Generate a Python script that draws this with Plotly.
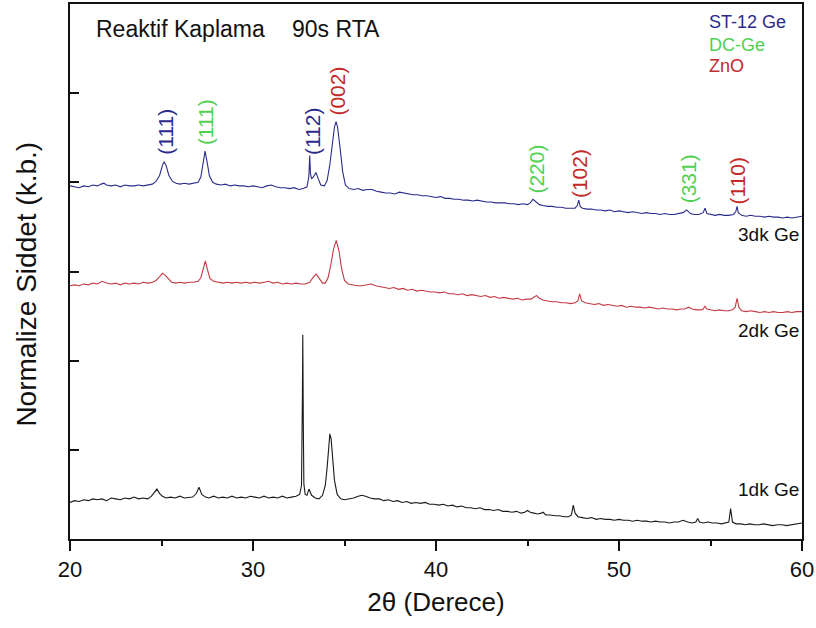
import plotly.graph_objects as go

# ---------------- data: (2θ [deg], normalized intensity incl. vertical offset) ----------------
pts_1dk = [
    (20.0, 0.41), (20.25, 0.43), (20.5, 0.42), (20.75, 0.44), (21.0, 0.43), (21.25, 0.45), (21.5, 0.44),
    (21.75, 0.45), (22.0, 0.43), (22.25, 0.46), (22.5, 0.45), (22.75, 0.44), (23.0, 0.46), (23.25, 0.45),
    (23.5, 0.47), (23.75, 0.45), (24.0, 0.46), (24.25, 0.45), (24.45, 0.48), (24.6, 0.52), (24.75, 0.56),
    (24.9, 0.51), (25.05, 0.48), (25.25, 0.46), (25.5, 0.47), (25.75, 0.46), (26.0, 0.48), (26.25, 0.46),
    (26.5, 0.47), (26.7, 0.47), (26.9, 0.51), (27.05, 0.58), (27.2, 0.50), (27.4, 0.47), (27.6, 0.46),
    (27.85, 0.48), (28.1, 0.46), (28.35, 0.47), (28.6, 0.46), (28.85, 0.48), (29.1, 0.46), (29.35, 0.47),
    (29.6, 0.46), (29.85, 0.48), (30.1, 0.47), (30.35, 0.46), (30.6, 0.48), (30.85, 0.46), (31.1, 0.47),
    (31.35, 0.46), (31.6, 0.48), (31.85, 0.46), (32.1, 0.47), (32.35, 0.48), (32.55, 0.50), (32.65, 0.60),
    (32.7, 1.60), (32.72, 2.29), (32.75, 1.27), (32.78, 0.62), (32.85, 0.50), (32.95, 0.49), (33.06, 0.56),
    (33.2, 0.49), (33.4, 0.46), (33.6, 0.45), (33.8, 0.49), (33.95, 0.60), (34.05, 0.80), (34.15, 1.05),
    (34.2, 1.18), (34.27, 1.12), (34.35, 0.90), (34.45, 0.66), (34.6, 0.50), (34.8, 0.45), (35.0, 0.44),
    (35.25, 0.45), (35.5, 0.46), (35.75, 0.48), (35.95, 0.49), (36.15, 0.48), (36.4, 0.46), (36.65, 0.45),
    (36.9, 0.45), (37.15, 0.43), (37.4, 0.44), (37.65, 0.42), (37.9, 0.43), (38.15, 0.41), (38.4, 0.42),
    (38.65, 0.40), (38.9, 0.41), (39.15, 0.40), (39.4, 0.41), (39.65, 0.39), (39.9, 0.39), (40.15, 0.38),
    (40.4, 0.39), (40.65, 0.37), (40.9, 0.38), (41.15, 0.36), (41.4, 0.37), (41.65, 0.35), (41.9, 0.35),
    (42.15, 0.34), (42.4, 0.35), (42.65, 0.33), (42.9, 0.33), (43.15, 0.32), (43.4, 0.33), (43.65, 0.31),
    (43.9, 0.31), (44.15, 0.30), (44.4, 0.31), (44.65, 0.29), (44.85, 0.30), (45.0, 0.32), (45.15, 0.30),
    (45.35, 0.29), (45.55, 0.28), (45.75, 0.29), (45.85, 0.30), (46.0, 0.27), (46.25, 0.27), (46.5, 0.26),
    (46.75, 0.26), (47.0, 0.25), (47.25, 0.25), (47.4, 0.27), (47.5, 0.38), (47.6, 0.29), (47.75, 0.25),
    (48.0, 0.24), (48.25, 0.23), (48.5, 0.24), (48.75, 0.22), (49.0, 0.23), (49.25, 0.22), (49.5, 0.22),
    (49.75, 0.21), (50.0, 0.22), (50.25, 0.21), (50.5, 0.21), (50.75, 0.20), (51.0, 0.21), (51.25, 0.20),
    (51.5, 0.20), (51.75, 0.19), (52.0, 0.20), (52.25, 0.19), (52.5, 0.19), (52.75, 0.18), (53.0, 0.19),
    (53.25, 0.19), (53.5, 0.21), (53.75, 0.19), (54.0, 0.18), (54.2, 0.19), (54.3, 0.23), (54.4, 0.19),
    (54.6, 0.18), (54.85, 0.19), (55.1, 0.18), (55.35, 0.18), (55.6, 0.17), (55.85, 0.18), (56.0, 0.19),
    (56.1, 0.34), (56.2, 0.19), (56.4, 0.17), (56.65, 0.17), (56.9, 0.16), (57.15, 0.17), (57.4, 0.16),
    (57.65, 0.16), (57.9, 0.17), (58.15, 0.16), (58.4, 0.15), (58.65, 0.16), (58.9, 0.16), (59.15, 0.15),
    (59.4, 0.16), (59.65, 0.17), (60.0, 0.18),
]

pts_2dk = [
    (20.0, 2.84), (20.25, 2.85), (20.5, 2.84), (20.75, 2.86), (21.0, 2.85), (21.25, 2.87), (21.5, 2.86),
    (21.75, 2.89), (22.0, 2.87), (22.25, 2.86), (22.5, 2.87), (22.75, 2.85), (23.0, 2.87), (23.25, 2.86),
    (23.5, 2.87), (23.75, 2.86), (24.0, 2.88), (24.25, 2.87), (24.5, 2.88), (24.7, 2.90), (24.85, 2.93),
    (25.05, 2.98), (25.2, 2.96), (25.35, 2.92), (25.55, 2.88), (25.8, 2.87), (26.0, 2.88), (26.25, 2.87),
    (26.5, 2.88), (26.75, 2.88), (27.0, 2.89), (27.15, 2.93), (27.3, 3.04), (27.4, 3.12), (27.5, 3.03),
    (27.65, 2.92), (27.85, 2.89), (28.1, 2.88), (28.35, 2.87), (28.6, 2.88), (28.85, 2.87), (29.1, 2.88),
    (29.35, 2.87), (29.6, 2.88), (29.85, 2.87), (30.1, 2.88), (30.35, 2.87), (30.6, 2.88), (30.85, 2.89),
    (31.1, 2.87), (31.35, 2.88), (31.6, 2.86), (31.85, 2.87), (32.1, 2.86), (32.35, 2.87), (32.6, 2.86),
    (32.85, 2.86), (33.1, 2.88), (33.3, 2.94), (33.45, 2.97), (33.6, 2.93), (33.8, 2.87), (33.95, 2.87),
    (34.1, 2.93), (34.25, 3.07), (34.4, 3.25), (34.55, 3.35), (34.7, 3.23), (34.85, 3.02), (35.0, 2.90),
    (35.2, 2.86), (35.45, 2.85), (35.7, 2.84), (35.95, 2.84), (36.2, 2.85), (36.45, 2.86), (36.7, 2.84),
    (36.95, 2.83), (37.2, 2.82), (37.45, 2.81), (37.7, 2.82), (37.95, 2.80), (38.2, 2.81), (38.45, 2.79),
    (38.7, 2.80), (38.95, 2.78), (39.2, 2.79), (39.45, 2.78), (39.7, 2.77), (39.95, 2.77), (40.2, 2.76),
    (40.45, 2.77), (40.7, 2.75), (40.95, 2.75), (41.2, 2.74), (41.45, 2.75), (41.7, 2.73), (41.95, 2.74),
    (42.2, 2.73), (42.45, 2.72), (42.7, 2.73), (42.95, 2.71), (43.2, 2.72), (43.45, 2.70), (43.7, 2.71),
    (43.95, 2.70), (44.2, 2.69), (44.45, 2.70), (44.7, 2.68), (44.95, 2.69), (45.2, 2.69), (45.4, 2.72),
    (45.5, 2.73), (45.65, 2.70), (45.85, 2.68), (46.1, 2.67), (46.35, 2.66), (46.6, 2.66), (46.85, 2.65),
    (47.1, 2.65), (47.35, 2.64), (47.6, 2.65), (47.75, 2.67), (47.85, 2.75), (47.95, 2.67), (48.15, 2.65),
    (48.4, 2.64), (48.65, 2.63), (48.9, 2.64), (49.15, 2.62), (49.4, 2.63), (49.65, 2.62), (49.9, 2.61),
    (50.15, 2.62), (50.4, 2.60), (50.65, 2.61), (50.9, 2.60), (51.15, 2.60), (51.4, 2.59), (51.65, 2.60),
    (51.9, 2.59), (52.15, 2.58), (52.4, 2.59), (52.65, 2.58), (52.9, 2.58), (53.15, 2.57), (53.4, 2.58),
    (53.6, 2.58), (53.8, 2.60), (54.0, 2.58), (54.25, 2.57), (54.5, 2.57), (54.6, 2.58), (54.7, 2.61),
    (54.8, 2.58), (55.0, 2.57), (55.25, 2.56), (55.5, 2.57), (55.75, 2.56), (56.0, 2.56), (56.2, 2.57),
    (56.35, 2.60), (56.45, 2.70), (56.55, 2.60), (56.7, 2.56), (56.95, 2.55), (57.2, 2.56), (57.45, 2.55),
    (57.7, 2.54), (57.95, 2.55), (58.2, 2.54), (58.45, 2.55), (58.7, 2.54), (58.95, 2.54), (59.2, 2.55),
    (59.45, 2.54), (59.7, 2.55), (60.0, 2.55),
]

pts_3dk = [
    (20.0, 3.96), (20.25, 3.95), (20.5, 3.94), (20.75, 3.96), (21.0, 3.95), (21.25, 3.97), (21.5, 3.96),
    (21.7, 3.98), (21.85, 3.99), (22.0, 3.97), (22.25, 3.96), (22.5, 3.97), (22.75, 3.95), (23.0, 3.97),
    (23.25, 3.96), (23.5, 3.96), (23.75, 3.97), (24.0, 3.96), (24.25, 3.97), (24.5, 3.98), (24.7, 4.01),
    (24.9, 4.08), (25.05, 4.19), (25.14, 4.23), (25.25, 4.19), (25.4, 4.08), (25.6, 4.01), (25.8, 3.99),
    (26.0, 3.98), (26.25, 3.99), (26.5, 3.98), (26.75, 3.99), (27.0, 4.00), (27.15, 4.06), (27.28, 4.25),
    (27.38, 4.35), (27.48, 4.24), (27.62, 4.07), (27.8, 4.00), (28.0, 3.98), (28.25, 3.97), (28.5, 3.98),
    (28.75, 3.96), (29.0, 3.97), (29.25, 3.96), (29.5, 3.96), (29.75, 3.95), (30.0, 3.96), (30.25, 3.95),
    (30.5, 3.94), (30.75, 3.96), (31.0, 3.97), (31.25, 3.95), (31.5, 3.94), (31.75, 3.94), (32.0, 3.93),
    (32.25, 3.94), (32.5, 3.92), (32.75, 3.93), (32.95, 3.95), (33.05, 4.06), (33.1, 4.30), (33.14, 4.10),
    (33.2, 4.04), (33.3, 4.06), (33.44, 4.11), (33.55, 4.05), (33.7, 3.97), (33.9, 3.96), (34.05, 4.02),
    (34.2, 4.20), (34.35, 4.46), (34.45, 4.62), (34.54, 4.68), (34.62, 4.62), (34.75, 4.40), (34.9, 4.12),
    (35.05, 3.97), (35.25, 3.93), (35.5, 3.92), (35.75, 3.93), (36.0, 3.91), (36.25, 3.92), (36.5, 3.92),
    (36.75, 3.90), (37.0, 3.89), (37.25, 3.88), (37.5, 3.88), (37.75, 3.87), (38.0, 3.89), (38.25, 3.88),
    (38.5, 3.87), (38.75, 3.86), (39.0, 3.86), (39.25, 3.85), (39.5, 3.85), (39.75, 3.84), (40.0, 3.83),
    (40.25, 3.84), (40.5, 3.82), (40.75, 3.82), (41.0, 3.81), (41.25, 3.81), (41.5, 3.80), (41.75, 3.80),
    (42.0, 3.79), (42.25, 3.80), (42.5, 3.79), (42.75, 3.78), (43.0, 3.78), (43.25, 3.77), (43.5, 3.77),
    (43.75, 3.77), (44.0, 3.76), (44.25, 3.76), (44.5, 3.75), (44.75, 3.76), (45.0, 3.75), (45.15, 3.77),
    (45.3, 3.81), (45.45, 3.78), (45.65, 3.75), (45.85, 3.74), (46.1, 3.73), (46.35, 3.73), (46.6, 3.72),
    (46.85, 3.72), (47.1, 3.71), (47.35, 3.71), (47.6, 3.71), (47.72, 3.74), (47.8, 3.80), (47.88, 3.73),
    (48.0, 3.71), (48.25, 3.70), (48.5, 3.70), (48.75, 3.69), (49.0, 3.69), (49.25, 3.68), (49.5, 3.69),
    (49.75, 3.67), (50.0, 3.68), (50.25, 3.67), (50.5, 3.66), (50.75, 3.67), (51.0, 3.66), (51.25, 3.65),
    (51.5, 3.66), (51.75, 3.65), (52.0, 3.65), (52.25, 3.64), (52.5, 3.65), (52.75, 3.64), (53.0, 3.64),
    (53.25, 3.65), (53.5, 3.66), (53.7, 3.69), (53.9, 3.65), (54.1, 3.64), (54.35, 3.64), (54.6, 3.66),
    (54.7, 3.71), (54.8, 3.65), (55.0, 3.64), (55.25, 3.63), (55.5, 3.64), (55.75, 3.63), (56.0, 3.63),
    (56.25, 3.64), (56.38, 3.67), (56.45, 3.73), (56.52, 3.66), (56.7, 3.63), (56.95, 3.62), (57.2, 3.63),
    (57.45, 3.62), (57.7, 3.62), (57.95, 3.61), (58.2, 3.62), (58.45, 3.61), (58.7, 3.61), (58.95, 3.60),
    (59.2, 3.61), (59.45, 3.60), (59.7, 3.61), (60.0, 3.62),
]

# peak labels
peak_x = [25.2, 27.4, 33.25, 34.6, 45.5, 47.85, 53.8, 56.45]
peak_y = [4.57, 4.68, 4.57, 5.02, 4.15, 4.10, 4.04, 4.01]
peak_text = ["(111)", "(111)", "(112)", "(002)", "(220)", "(102)", "(331)", "(110)"]
peak_phase = ["ST-12 Ge", "DC-Ge", "ST-12 Ge", "ZnO", "DC-Ge", "ZnO", "DC-Ge", "ZnO"]

phases = ["ST-12 Ge", "DC-Ge", "ZnO"]
phase_colors = {"ST-12 Ge": "#2b2b8c", "DC-Ge": "#52d052", "ZnO": "#c42a2a"}

sample_names = ["1dk Ge", "2dk Ge", "3dk Ge"]
sample_label_y = [0.56, 2.34, 3.42]
curve_colors = ["#1a1a1a", "#c23a44", "#2b2b8c"]

x_ticks = [20, 30, 40, 50, 60]

FONT = "Liberation Sans, Arial, sans-serif"

fig = go.Figure()
for pts, name, col in zip([pts_1dk, pts_2dk, pts_3dk], sample_names, curve_colors):
    xs = [p[0] for p in pts]
    ys = [p[1] for p in pts]
    fig.add_trace(go.Scatter(x=xs, y=ys, mode="lines", name=name,
                             line=dict(color=col, width=1.1), showlegend=False))

annotations = []
for px, py, t, ph in zip(peak_x, peak_y, peak_text, peak_phase):
    annotations.append(dict(x=px, y=py, xref="x", yref="y", text=t, showarrow=False,
                            textangle=-90, font=dict(family=FONT, size=21, color=phase_colors[ph])))

for name, ly in zip(sample_names, sample_label_y):
    annotations.append(dict(x=59.95, y=ly, xref="x", yref="y", text=name, showarrow=False,
                            xanchor="right", yanchor="middle", font=dict(family=FONT, size=19, color="#111")))

legend_y = [5.80, 5.54, 5.30]
for ph, ly in zip(phases, legend_y):
    annotations.append(dict(x=54.8, y=ly, xref="x", yref="y", text=ph, showarrow=False,
                            xanchor="left", yanchor="middle", font=dict(family=FONT, size=18, color=phase_colors[ph])))

annotations.append(dict(x=21.3, y=5.72, xref="x", yref="y", text="Reaktif Kaplama", showarrow=False,
                        xanchor="left", yanchor="middle", font=dict(family=FONT, size=23, color="#111")))
annotations.append(dict(x=32.0, y=5.72, xref="x", yref="y", text="90s RTA", showarrow=False,
                        xanchor="left", yanchor="middle", font=dict(family=FONT, size=23, color="#111")))

# y-axis title placed as rotated annotation (slightly below plot centre, as in the reference)
annotations.append(dict(x=-0.059, y=0.477, xref="paper", yref="paper", text="Normalize Siddet (k.b.)",
                        showarrow=False, textangle=-90, xanchor="center", yanchor="middle",
                        font=dict(family=FONT, size=28, color="#111")))

fig.update_layout(
    width=816, height=628,
    margin=dict(l=70, r=14, t=2, b=89),
    paper_bgcolor="white", plot_bgcolor="white",
    annotations=annotations,
    font=dict(family=FONT, color="#111"),
)
fig.update_xaxes(range=[20, 60], tickvals=x_ticks, ticks="outside", ticklen=10, tickwidth=1.5,
                 tickcolor="#111", showline=True, linecolor="#111", linewidth=1.5, mirror=True,
                 showgrid=False, zeroline=False, tickfont=dict(family=FONT, size=22, color="#111"),
                 minor=dict(tickvals=[25, 35, 45, 55], ticks="outside", ticklen=5, tickwidth=1.5, tickcolor="#111"),
                 title=dict(text="2θ (Derece)", font=dict(family=FONT, size=26, color="#111"), standoff=12))
fig.update_yaxes(range=[0, 6], tickvals=[1, 2, 3, 4, 5], ticks="inside", ticklen=9, tickwidth=1.5,
                 tickcolor="#111", showticklabels=False, showline=True, linecolor="#111", linewidth=1.5,
                 mirror=True, showgrid=False, zeroline=False)

fig.write_html("out.html")
